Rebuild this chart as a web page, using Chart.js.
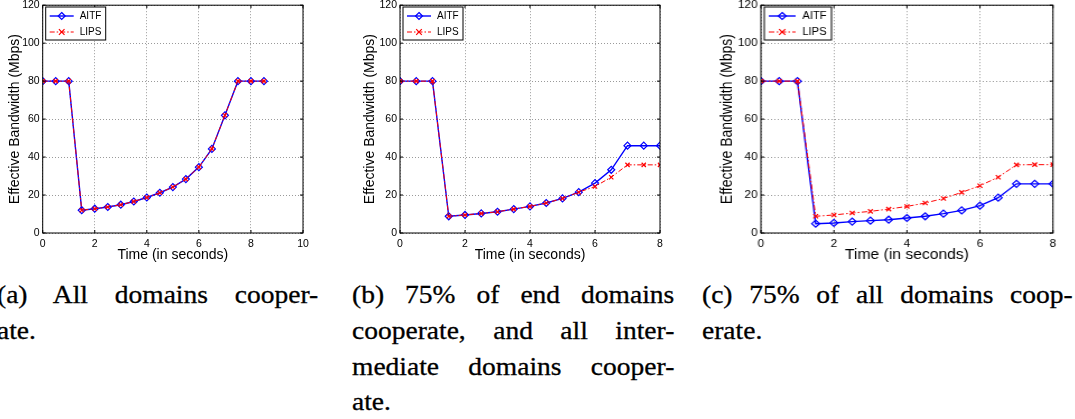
<!DOCTYPE html>
<html>
<head>
<meta charset="utf-8">
<script src="https://cdn.jsdelivr.net/npm/chart.js@4.4.0/dist/chart.umd.min.js"></script>
<style>
  body { margin: 0; background: #fff; width: 1075px; height: 419px; overflow: hidden; position: relative; }
  .panel { position: absolute; top: 0; height: 265px; transform-origin: left top; }
  .cap { position: absolute; font-family: "Liberation Serif", serif; font-size: 25px; line-height: 25px;
         white-space: nowrap; color: #000; -webkit-text-stroke: 0.3px #000;
         transform: scaleX(1.1); transform-origin: left top; }
  .just { text-align: justify; text-align-last: justify; }
</style>
</head>
<body>
<div class="panel" style="left:0px"><canvas id="chartA" width="310" height="265"></canvas></div>
<div class="panel" style="left:355px"><canvas id="chartB" width="312" height="265"></canvas></div>
<div class="panel" style="left:715px; transform: scaleX(1.12)"><canvas id="chartC" width="308" height="265"></canvas></div>

<div class="cap just" style="left:-3px; top:282px; width:292px">(a) All domains cooper-</div>
<div class="cap" style="left:-3px; top:318px">ate.</div>
<div class="cap just" style="left:352px; top:282px; width:293px">(b) 75% of end domains</div>
<div class="cap just" style="left:352px; top:318px; width:293px">cooperate, and all inter-</div>
<div class="cap just" style="left:352px; top:354px; width:293px">mediate domains cooper-</div>
<div class="cap" style="left:352px; top:389px">ate.</div>
<div class="cap just" style="left:702px; top:282px; width:337px">(c) 75% of all domains coop-</div>
<div class="cap" style="left:702px; top:318px">erate.</div>

<script>
// time axis (seconds)
const timeA = [0, 0.5, 1, 1.5, 2, 2.5, 3, 3.5, 4, 4.5, 5, 5.5, 6, 6.5, 7, 7.5, 8, 8.5];
const timeBC = [0, 0.5, 1, 1.5, 2, 2.5, 3, 3.5, 4, 4.5, 5, 5.5, 6, 6.5, 7, 7.5, 8];

// (a) all domains cooperate
const aitfA = [80, 80, 80, 12, 12.8, 13.7, 14.9, 16.6, 18.7, 21.2, 24.2, 28.4, 34.7, 44.3, 62, 80, 80, 80];
const lipsA = [80, 80, 80, 12, 12.8, 13.7, 14.9, 16.6, 18.7, 21.2, 24.2, 28.4, 34.7, 44.3, 62, 80, 80, 80];

// (b) 75% of end domains
const aitfB = [80, 80, 80, 8.8, 9.5, 10.3, 11.2, 12.6, 14.0, 15.8, 18.2, 21.5, 26.3, 33.3, 46, 46, 46];
const lipsB = [80, 80, 80, 8.8, 9.5, 10.3, 11.2, 12.6, 14.0, 15.8, 18.2, 21.5, 24.5, 29.4, 35.9, 35.9, 35.9];

// (c) 75% of all domains
const aitfC = [80, 80, 80, 4.9, 5.3, 6.0, 6.5, 7.0, 7.9, 8.8, 10.2, 11.9, 14.4, 18.6, 25.9, 25.9, 25.9];
const lipsC = [80, 80, 80, 8.8, 9.5, 10.5, 11.4, 12.6, 14.0, 15.8, 18.2, 21.4, 24.9, 29.4, 35.9, 36, 36];

const xTicksA = [0, 2, 4, 6, 8, 10];
const xTicksBC = [0, 2, 4, 6, 8];
const yTicks = [0, 20, 40, 60, 80, 100, 120];
const seriesNames = ["AITF", "LIPS"];

const SANS = "'Liberation Sans', Arial, sans-serif";
const BLUE = "#0000ff";
const RED = "#ff0000";
const LIPS_DASH = [5, 2, 1.5, 2];

function drawMarker(ctx, kind, x, y, r) {
  ctx.beginPath();
  if (kind === "diamond") {
    ctx.moveTo(x, y - r); ctx.lineTo(x + r, y); ctx.lineTo(x, y + r); ctx.lineTo(x - r, y); ctx.closePath();
  } else {
    ctx.moveTo(x - r * 0.8, y - r * 0.8); ctx.lineTo(x + r * 0.8, y + r * 0.8);
    ctx.moveTo(x + r * 0.8, y - r * 0.8); ctx.lineTo(x - r * 0.8, y + r * 0.8);
  }
  ctx.stroke();
}

// MATLAB-like frame, inward ticks and boxed legend
const matlabFrame = {
  id: "matlabFrame",
  afterDraw(chart) {
    const { ctx, chartArea: a, scales } = chart;
    ctx.save();
    ctx.strokeStyle = "#000";
    ctx.lineWidth = 1;
    ctx.setLineDash([]);
    ctx.strokeRect(a.left, a.top, a.right - a.left, a.bottom - a.top);
    ctx.beginPath();
    scales.x.ticks.forEach((t) => {
      const px = scales.x.getPixelForValue(t.value);
      ctx.moveTo(px, a.bottom); ctx.lineTo(px, a.bottom - 3);
      ctx.moveTo(px, a.top); ctx.lineTo(px, a.top + 3);
    });
    scales.y.ticks.forEach((t) => {
      const py = scales.y.getPixelForValue(t.value);
      ctx.moveTo(a.left, py); ctx.lineTo(a.left + 3, py);
      ctx.moveTo(a.right, py); ctx.lineTo(a.right - 3, py);
    });
    ctx.stroke();

    // legend
    const bx = a.left + 3, by = 7, bw = 60, bh = 33;
    ctx.fillStyle = "#fff";
    ctx.fillRect(bx, by, bw, bh);
    ctx.strokeRect(bx, by, bw, bh);
    const rows = [by + 9, by + 25];
    ctx.font = "10px " + SANS;
    ctx.textBaseline = "middle";
    ctx.textAlign = "left";
    chart.data.datasets.forEach((ds, i) => {
      const y = rows[i];
      ctx.strokeStyle = ds.borderColor;
      ctx.lineWidth = ds.borderWidth;
      ctx.setLineDash(ds.borderDash || []);
      ctx.beginPath();
      ctx.moveTo(bx + 4, y); ctx.lineTo(bx + 28, y);
      ctx.stroke();
      ctx.setLineDash([]);
      ctx.lineWidth = 1.2;
      drawMarker(ctx, i === 0 ? "diamond" : "cross", bx + 16, y, 3.5);
      ctx.fillStyle = "#000";
      ctx.fillText(ds.label, bx + 34, y + 0.5);
    });
    ctx.restore();
  },
};

function makeChart(id, time, aitf, lips, xTicks, cfg) {
  const tickFont = { family: SANS, size: 10.5 };
  const titleFont = { family: SANS, size: 14 };
  return new Chart(document.getElementById(id), {
    type: "line",
    data: {
      datasets: [
        {
          label: seriesNames[0],
          data: time.map((t, i) => ({ x: t, y: aitf[i] })),
          borderColor: BLUE,
          borderWidth: 1.4,
          pointStyle: "rectRot",
          pointRadius: 3.5,
          pointBorderColor: BLUE,
          pointBackgroundColor: "rgba(0,0,0,0)",
          pointBorderWidth: 1.2,
          tension: 0,
          order: 1,
        },
        {
          label: seriesNames[1],
          data: time.map((t, i) => ({ x: t, y: lips[i] })),
          borderColor: RED,
          borderWidth: 1,
          borderDash: LIPS_DASH,
          pointStyle: "crossRot",
          pointRadius: 3,
          pointBorderColor: RED,
          pointBorderWidth: 1.2,
          tension: 0,
          order: 0,
        },
      ],
    },
    options: {
      responsive: false,
      animation: false,
      layout: { padding: { top: 5, right: cfg.padR, left: 0, bottom: 0 } },
      plugins: { legend: { display: false }, tooltip: { enabled: false } },
      scales: {
        x: {
          type: "linear",
          min: xTicks[0],
          max: xTicks[xTicks.length - 1],
          afterBuildTicks: (s) => { s.ticks = xTicks.map((v) => ({ value: v })); },
          ticks: { padding: 5, color: "#000", font: tickFont },
          grid: { color: "#9a9a9a", lineWidth: 1, drawTicks: false },
          border: { display: false, dash: [1, 2] },
          title: { display: true, text: "Time (in seconds)", color: "#000", font: titleFont,
                   padding: { top: 0, bottom: 1.6 } },
          afterFit: (s) => { s.height = 32; s.paddingLeft = 0; s.paddingRight = 0; },
        },
        y: {
          type: "linear",
          min: 0,
          max: 120,
          afterBuildTicks: (s) => { s.ticks = yTicks.map((v) => ({ value: v })); },
          ticks: { padding: 3, color: "#000", font: tickFont },
          grid: { color: "#9a9a9a", lineWidth: 1, drawTicks: false },
          border: { display: false, dash: [1, 2] },
          title: { display: true, text: "Effective Bandwidth (Mbps)", color: "#000", font: titleFont,
                   padding: { top: cfg.titlePad, bottom: 0 } },
          afterFit: (s) => { s.width = cfg.yW; s.paddingTop = 0; s.paddingBottom = 0; },
        },
      },
    },
    plugins: [matlabFrame],
  });
}

makeChart("chartA", timeA, aitfA, lipsA, xTicksA, { yW: 42.7, padR: 7, titlePad: 6.6 });
makeChart("chartB", timeBC, aitfB, lipsB, xTicksBC, { yW: 45, padR: 7, titlePad: 6.6 });
makeChart("chartC", timeBC, aitfC, lipsC, xTicksBC, { yW: 41, padR: 6.25, titlePad: 3.2 });
</script>
</body>
</html>
